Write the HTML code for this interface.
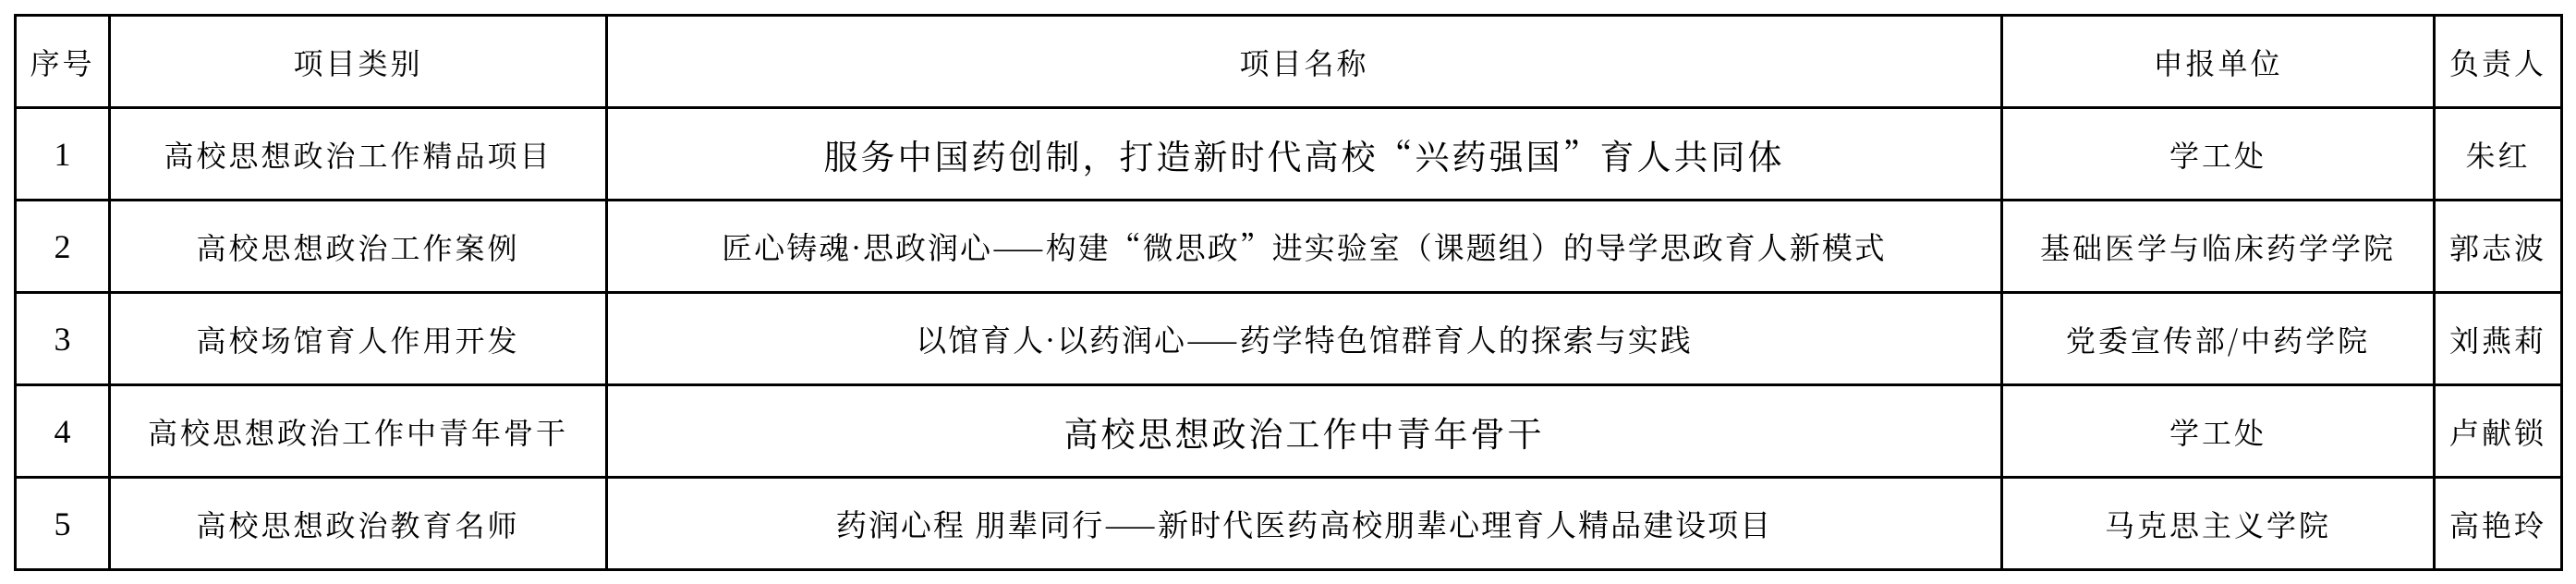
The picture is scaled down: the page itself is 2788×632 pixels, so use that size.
<!DOCTYPE html>
<html><head><meta charset="utf-8"><style>
html,body{margin:0;padding:0;background:#fff;}
body{width:2788px;height:632px;position:relative;overflow:hidden;}
table{position:absolute;left:15px;top:15px;border-collapse:collapse;table-layout:fixed;}
td{border:3px solid #000;padding:0;text-align:center;vertical-align:middle;height:97px;box-sizing:border-box;
font-family:"Noto Serif CJK SC","Liberation Serif",serif;font-size:32px;letter-spacing:3px;color:#000;white-space:nowrap;overflow:hidden;}
tr{height:100px;}
.n{font-family:"Liberation Serif",serif;font-size:36px;letter-spacing:0;}
.b{font-size:37px;letter-spacing:3px;}
.m{font-size:33px;letter-spacing:2px;}
</style></head><body>
<table>
<colgroup><col style="width:102px"><col style="width:538px"><col style="width:1510px"><col style="width:468px"><col style="width:138px"></colgroup>
<tr><td>序号</td><td>项目类别</td><td>项目名称</td><td>申报单位</td><td>负责人</td></tr>
<tr><td class="n">1</td><td>高校思想政治工作精品项目</td><td class="b">服务中国药创制，打造新时代高校“兴药强国”育人共同体</td><td>学工处</td><td>朱红</td></tr>
<tr><td class="n">2</td><td>高校思想政治工作案例</td><td class="m">匠心铸魂·思政润心——构建“微思政”进实验室（课题组）的导学思政育人新模式</td><td>基础医学与临床药学学院</td><td>郭志波</td></tr>
<tr><td class="n">3</td><td>高校场馆育人作用开发</td><td class="m">以馆育人·以药润心——药学特色馆群育人的探索与实践</td><td>党委宣传部/中药学院</td><td>刘燕莉</td></tr>
<tr><td class="n">4</td><td>高校思想政治工作中青年骨干</td><td class="b">高校思想政治工作中青年骨干</td><td>学工处</td><td>卢献锁</td></tr>
<tr><td class="n">5</td><td>高校思想政治教育名师</td><td class="m">药润心程 朋辈同行——新时代医药高校朋辈心理育人精品建设项目</td><td>马克思主义学院</td><td>高艳玲</td></tr>
</table>
</body></html>
